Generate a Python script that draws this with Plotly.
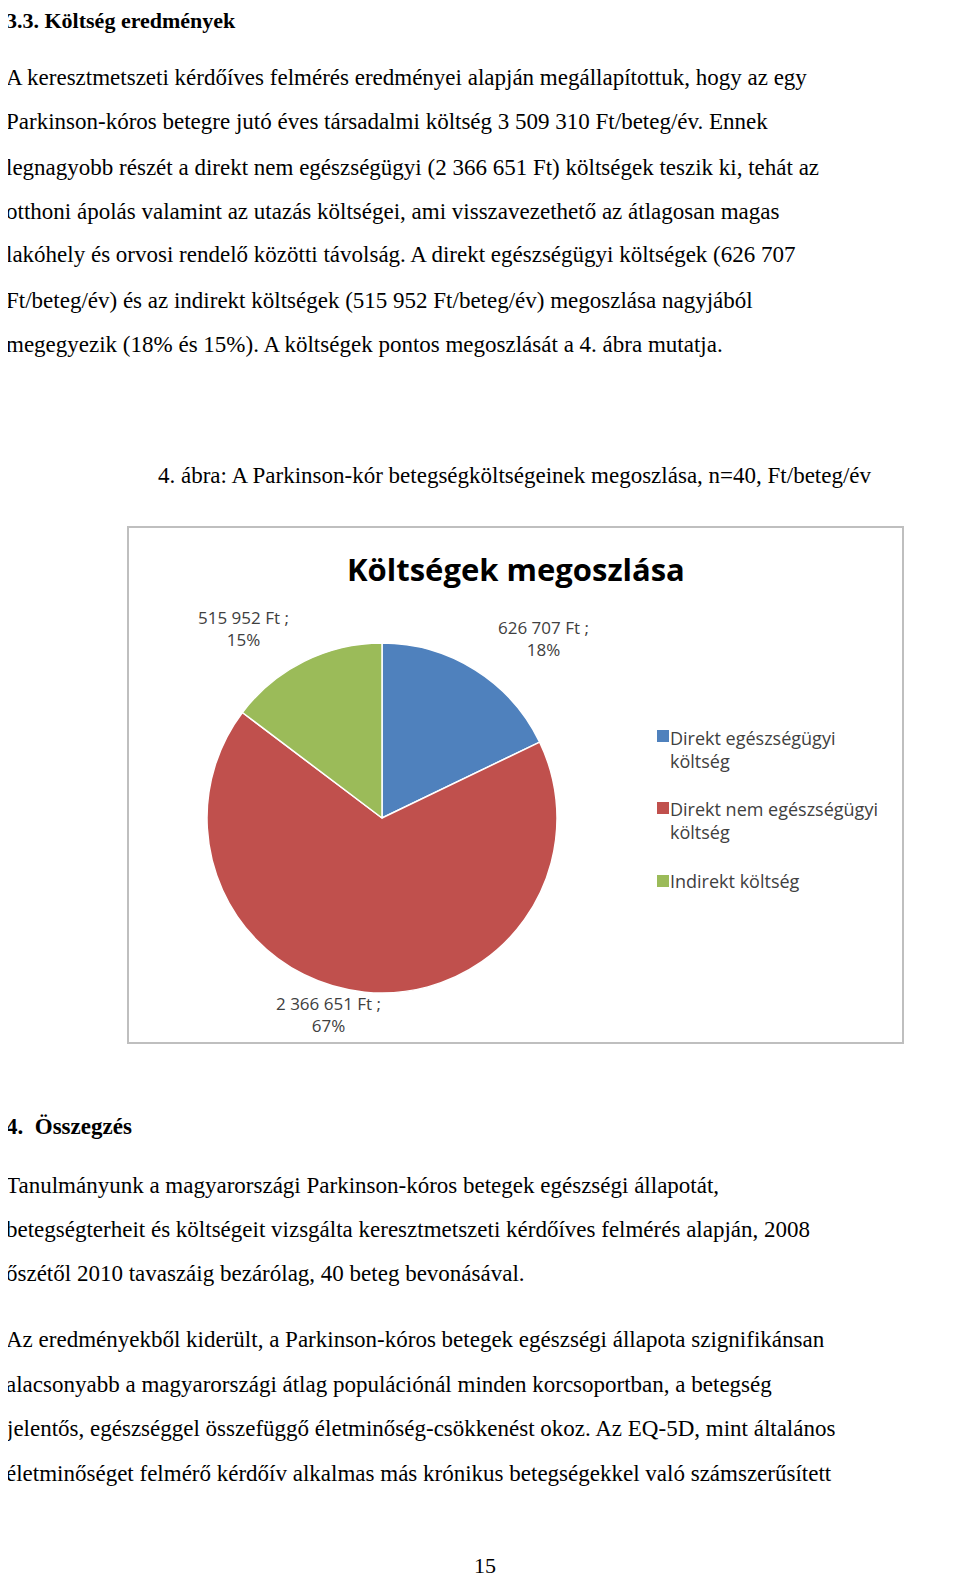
import plotly.graph_objects as go

W, H = 960, 1583
categories = ["Direkt egészségügyi<br>költség", "Direkt nem egészségügyi<br>költség", "Indirekt költség"]
values = [626707, 2366651, 515952]
value_labels = ["626 707 Ft ;<br>18%", "2 366 651 Ft ;<br>67%", "515 952 Ft ;<br>15%"]
colors = ["#4F81BD", "#C0504D", "#9BBB59"]

def py(y): return 1 - y / H
def px(x): return x / W

fig = go.Figure(go.Pie(
    labels=categories, values=values, sort=False, direction="clockwise", rotation=0,
    marker=dict(colors=colors, line=dict(color="white", width=1.5)),
    textinfo="none", hoverinfo="label+value+percent", showlegend=False,
    domain=dict(x=[px(198), px(550)], y=[py(985), py(635)]),
))

ann = []
def txt(x, y, s, size=22, bold=False, anchor="left", font="Liberation Serif", color="black", align="center"):
    ann.append(dict(x=px(x), y=py(y), xref="paper", yref="paper", text=("<b>%s</b>" % s) if bold else s,
                    showarrow=False, xanchor=anchor, yanchor="middle", align=align,
                    font=dict(family=font, size=size, color=color)))

txt(-4, 12, "3.3. Költség eredmények", 22, True)
body = [
    (70, "A keresztmetszeti kérdőíves felmérés eredményei alapján megállapítottuk, hogy az egy"),
    (114, "Parkinson-kóros betegre jutó éves társadalmi költség 3 509 310 Ft/beteg/év. Ennek"),
    (159, "legnagyobb részét a direkt nem egészségügyi (2 366 651 Ft) költségek teszik ki, tehát az"),
    (203, "otthoni ápolás valamint az utazás költségei, ami visszavezethető az átlagosan magas"),
    (247, "lakóhely és orvosi rendelő közötti távolság. A direkt egészségügyi költségek (626 707"),
    (292, "Ft/beteg/év) és az indirekt költségek (515 952 Ft/beteg/év) megoszlása nagyjából"),
    (336, "megegyezik (18% és 15%). A költségek pontos megoszlását a 4. ábra mutatja."),
    (1177, "Tanulmányunk a magyarországi Parkinson-kóros betegek egészségi állapotát,"),
    (1221, "betegségterheit és költségeit vizsgálta keresztmetszeti kérdőíves felmérés alapján, 2008"),
    (1265, "őszétől 2010 tavaszáig bezárólag, 40 beteg bevonásával."),
    (1331, "Az eredményekből kiderült, a Parkinson-kóros betegek egészségi állapota szignifikánsan"),
    (1376, "alacsonyabb a magyarországi átlag populációnál minden korcsoportban, a betegség"),
    (1420, "jelentős, egészséggel összefüggő életminőség-csökkenést okoz. Az EQ-5D, mint általános"),
    (1465, "életminőséget felmérő kérdőív alkalmas más krónikus betegségekkel való számszerűsített"),
]
for y, s in body:
    txt(-4, y, s, 23)
txt(507, 467, "4. ábra: A Parkinson-kór betegségköltségeinek megoszlása, n=40, Ft/beteg/év", 23, anchor="center")
txt(-4, 1118, "4.  Összegzés", 23, True)
txt(477, 1557, "15", 22, anchor="center")

sans = "Open Sans"
txt(508, 561, "Költségek megoszlása", 31, True, "center", sans)
txt(535, 630, value_labels[0], 17, anchor="center", font=sans, color="#404040")
txt(320, 1007, value_labels[1], 17, anchor="center", font=sans, color="#404040")
txt(235, 620, value_labels[2], 17, anchor="center", font=sans, color="#404040")

shapes = [dict(type="rect", xref="paper", yref="paper", x0=px(120), x1=px(895), y0=py(1035), y1=py(519),
               line=dict(color="#BFBFBF", width=2))]
leg_y = [741, 813, 873]
for i, (c, lab) in enumerate(zip(colors, categories)):
    sq_y = leg_y[i] - (13 if "<br>" in lab else 0)
    shapes.append(dict(type="rect", xref="paper", yref="paper", x0=px(649), x1=px(661),
                       y0=py(sq_y + 6), y1=py(sq_y - 6), fillcolor=c, line=dict(width=0)))
    txt(660, leg_y[i], lab, 18, anchor="left", font=sans, color="#404040", align="left")

fig.update_layout(
    width=W, height=H, margin=dict(l=0, r=0, t=0, b=0), paper_bgcolor="white",
    annotations=ann, shapes=shapes, showlegend=False,
)
fig.write_html("out.html")
